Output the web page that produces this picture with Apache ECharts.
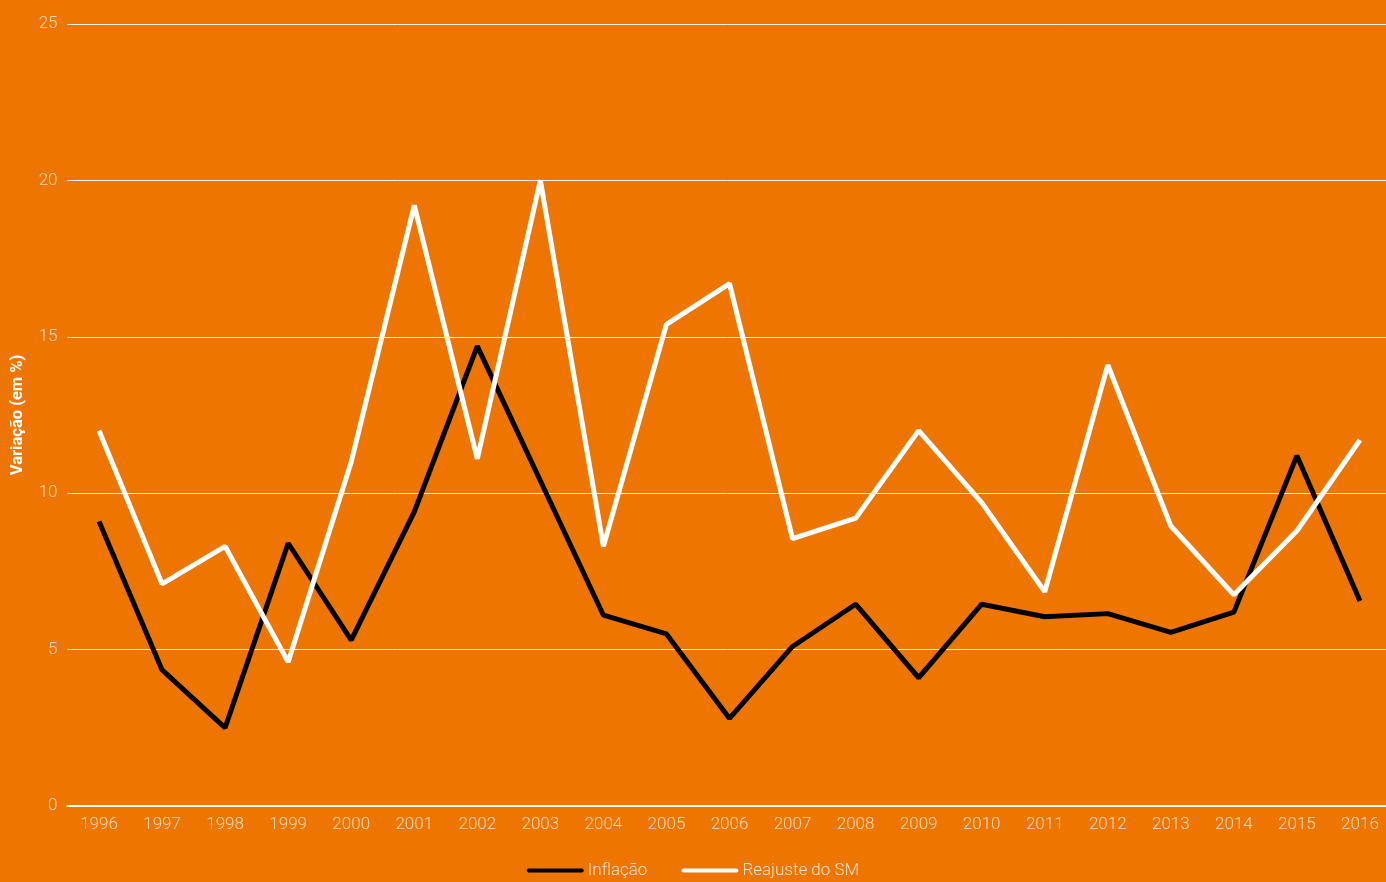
<!DOCTYPE html>
<html><head><meta charset="utf-8">
<script src="https://cdn.jsdelivr.net/npm/echarts@6/dist/echarts.min.js"></script>
<style>html,body{margin:0;padding:0;background:#EE7600;}#c{width:1386px;height:882px;}</style>
</head><body><div id="c"></div>
<script>
const years = ['1996','1997','1998','1999','2000','2001','2002','2003','2004','2005','2006','2007','2008','2009','2010','2011','2012','2013','2014','2015','2016'];
const inflacao = [9.1,4.35,2.5,8.4,5.3,9.4,14.7,10.4,6.1,5.5,2.8,5.1,6.45,4.1,6.45,6.05,6.15,5.55,6.2,11.2,6.55];
const reajusteSM = [12.0,7.1,8.3,4.6,11.0,19.2,11.1,20.0,8.3,15.4,16.7,8.55,9.2,12.0,9.7,6.85,14.1,8.95,6.75,8.8,11.7];
const yTicks = {min:0,max:25,interval:5};

const chart = echarts.init(document.getElementById('c'));
const lbl = {color:'rgba(255,235,210,0.85)', fontFamily:'Roboto', fontWeight:300, fontSize:17};
chart.setOption({
  backgroundColor:'#EE7600',
  animation:false,
  grid:{left:67.5, right:-5.5, top:24, bottom:76, containLabel:false, outerBoundsMode:'none'},
  legend:{
    bottom:-2, left:'center', itemWidth:57, itemHeight:14, itemGap:34,
    icon:'path://M2,5 L55,5 A2,2 0 0 1 55,9 L2,9 A2,2 0 0 1 2,5 Z',
    textStyle:{color:'rgba(255,240,225,0.9)', fontFamily:'Roboto', fontWeight:300, fontSize:17, padding:[0,0,0,-1]},
    data:['Inflação','Reajuste do SM']
  },
  xAxis:{
    type:'category', data:years, boundaryGap:true,
    axisLine:{show:true, lineStyle:{color:'#fff', width:2}},
    axisTick:{show:false},
    axisLabel:Object.assign({margin:10, interval:0}, lbl),
    splitLine:{show:false}
  },
  yAxis:{
    type:'value', min:yTicks.min, max:yTicks.max, interval:yTicks.interval,
    name:'Variação (em %)', nameLocation:'middle', nameGap:41, nameRotate:90,
    nameTextStyle:{color:'#fff', fontFamily:'Roboto', fontWeight:'bold', fontSize:16.5},
    axisLine:{show:false}, axisTick:{show:false},
    axisLabel:Object.assign({margin:10}, lbl),
    splitLine:{lineStyle:{color:'rgba(255,255,255,0.9)', width:1}}
  },
  series:[
    {name:'Inflação', type:'line', data:inflacao, symbol:'none', color:'#000', lineStyle:{color:'#000', width:5}},
    {name:'Reajuste do SM', type:'line', data:reajusteSM, symbol:'none', color:'#fff', lineStyle:{color:'#fff', width:5}}
  ]
});
</script></body></html>
